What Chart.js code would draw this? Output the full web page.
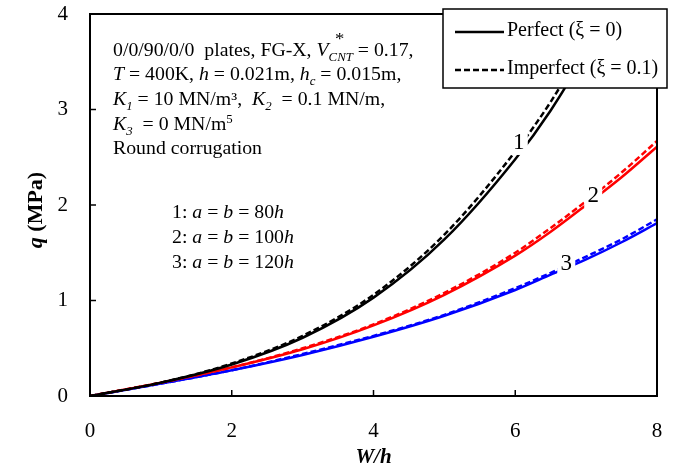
<!DOCTYPE html>
<html>
<head>
<meta charset="utf-8">
<script src="https://cdn.jsdelivr.net/npm/chart.js@4.4.1/dist/chart.umd.min.js"></script>
<style>
  html, body { margin: 0; padding: 0; background: #fff; }
  #wrap { width: 679px; height: 471px; }
</style>
</head>
<body>
<div id="wrap"><canvas id="chart" width="679" height="471"></canvas></div>
<script>
// W/h values where the curves were read
const wh = [0, 1, 2, 3, 4, 5, 6, 6.5, 7, 7.5, 8];

// q (MPa), perfect (xi = 0) and imperfect (xi = 0.1)
const q80Perfect = [0, 0.14, 0.33, 0.61, 1.03, 1.64, 2.48, 2.99, 3.60, 4.28, 5.05];
const q80Imperfect = [0, 0.14, 0.34, 0.63, 1.06, 1.69, 2.56, 3.08, 3.71, 4.40, 5.18];
const q100Perfect = [0, 0.14, 0.30, 0.49, 0.74, 1.06, 1.47, 1.72, 2.00, 2.29, 2.61];
const q100Imperfect = [0, 0.14, 0.30, 0.50, 0.75, 1.08, 1.50, 1.76, 2.04, 2.34, 2.67];
const q120Perfect = [0, 0.13, 0.27, 0.43, 0.62, 0.84, 1.11, 1.27, 1.43, 1.61, 1.81];
const q120Imperfect = [0, 0.13, 0.27, 0.44, 0.63, 0.85, 1.13, 1.29, 1.46, 1.64, 1.85];

const xTicks = [0, 2, 4, 6, 8];
const yTicks = [0, 1, 2, 3, 4];

// curve numbers and where they sit (data coords)
const curveLabels = ['1', '2', '3'];
const curveLabelX = [6.05, 7.1, 6.72];
const curveLabelY = [2.66, 2.1, 1.39];

const SERIF = '"Liberation Serif", "Times New Roman", serif';

const pts = ys => wh.map((x, i) => ({ x: x, y: ys[i] }));

function line(ys, color, dashed) {
  return {
    data: pts(ys),
    borderColor: color,
    borderWidth: 2.5,
    borderDash: dashed ? [6, 3] : [],
    pointRadius: 0,
    cubicInterpolationMode: 'monotone',
    fill: false
  };
}

// one line of mixed text: [text, italic, 'sub'|'sup'|undefined]
function richText(ctx, x, y, parts, size) {
  let cx = x;
  parts.forEach(p => {
    const [t, it, pos] = p;
    let s = size, dy = 0;
    if (pos === 'sub') { s = size * 0.65; dy = size * 0.25; }
    if (pos === 'sup') { s = size * 0.65; dy = -size * 0.38; }
    ctx.font = (it ? 'italic ' : '') + s + 'px ' + SERIF;
    ctx.fillText(t, cx, y + dy);
    cx += ctx.measureText(t).width;
  });
  return cx;
}

const decor = {
  id: 'decor',
  afterDatasetsDraw(chart) {
    const { ctx, scales: { x, y } } = chart;
    ctx.save();
    ctx.font = '23px ' + SERIF;
    ctx.textAlign = 'center';
    ctx.textBaseline = 'middle';
    curveLabels.forEach((t, i) => {
      const px = x.getPixelForValue(curveLabelX[i]);
      const py = y.getPixelForValue(curveLabelY[i]);
      ctx.fillStyle = '#fff';
      ctx.fillRect(px - 9, py - 13, 18, 26);
      ctx.fillStyle = '#000';
      ctx.fillText(t, px, py + 1);
    });
    ctx.restore();
  },
  afterDraw(chart) {
    const { ctx, chartArea: a, scales: { x, y } } = chart;
    ctx.save();
    // frame
    ctx.strokeStyle = '#000';
    ctx.lineWidth = 2;
    ctx.strokeRect(a.left, a.top, a.right - a.left, a.bottom - a.top);
    // inward tick marks
    ctx.lineWidth = 1.5;
    xTicks.forEach(v => {
      const px = x.getPixelForValue(v);
      ctx.beginPath(); ctx.moveTo(px, a.bottom); ctx.lineTo(px, a.bottom - 6); ctx.stroke();
    });
    yTicks.forEach(v => {
      const py = y.getPixelForValue(v);
      ctx.beginPath(); ctx.moveTo(a.left, py); ctx.lineTo(a.left + 6, py); ctx.stroke();
    });

    // axis titles
    ctx.fillStyle = '#000';
    ctx.textBaseline = 'middle';
    ctx.textAlign = 'center';
    ctx.font = 'italic bold 21px ' + SERIF;
    ctx.fillText('W/h', (a.left + a.right) / 2, 458);
    ctx.save();
    ctx.translate(36, 210);
    ctx.rotate(-Math.PI / 2);
    ctx.textAlign = 'left';
    ctx.font = 'italic bold 22px ' + SERIF;
    const qw = ctx.measureText('q').width;
    ctx.font = 'bold 22px ' + SERIF;
    const rest = ' (MPa)';
    const tw = qw + ctx.measureText(rest).width;
    ctx.font = 'italic bold 22px ' + SERIF;
    ctx.fillText('q', -tw / 2, 0);
    ctx.font = 'bold 22px ' + SERIF;
    ctx.fillText(rest, -tw / 2 + qw, 0);
    ctx.restore();

    // notes block (text in the figure is slightly widened)
    const fs = 18;
    const sx = 1.1;
    const lx = 113;
    ctx.save();
    ctx.translate(lx, 0);
    ctx.scale(sx, 1);
    ctx.textAlign = 'left';
    ctx.textBaseline = 'alphabetic';
    const notes = [
      [['0/0/90/0/0  plates, FG-X, ', false], ['V', true], ['CNT', true, 'sub'], [' = 0.17,', false]],
      [['T', true], [' = 400K, ', false], ['h', true], [' = 0.021m, ', false], ['h', true], ['c', true, 'sub'], [' = 0.015m,', false]],
      [['K', true], ['1', true, 'sub'], [' = 10 MN/m\u00B3,  ', false], ['K', true], ['2', true, 'sub'], ['  = 0.1 MN/m,', false]],
      [['K', true], ['3', true, 'sub'], ['  = 0 MN/m', false], ['5', false, 'sup']],
      [['Round corrugation', false]]
    ];
    const base = [56, 80, 105, 130, 154];
    notes.forEach((parts, i) => richText(ctx, 0, base[i], parts, fs));
    // asterisk over V_CNT
    ctx.font = fs + 'px ' + SERIF;
    const pre = ctx.measureText('0/0/90/0/0  plates, FG-X, ').width;
    ctx.font = 'italic ' + fs + 'px ' + SERIF;
    const vw = ctx.measureText('V').width;
    ctx.font = 'italic ' + (fs * 0.65) + 'px ' + SERIF;
    const cntw = ctx.measureText('CNT').width;
    ctx.font = '17px ' + SERIF;
    ctx.textAlign = 'center';
    ctx.fillText('*', pre + vw + cntw / 2 - 1, base[0] - 12);
    ctx.textAlign = 'left';

    const cases = [
      [['1: ', false], ['a', true], [' = ', false], ['b', true], [' = 80', false], ['h', true]],
      [['2: ', false], ['a', true], [' = ', false], ['b', true], [' = 100', false], ['h', true]],
      [['3: ', false], ['a', true], [' = ', false], ['b', true], [' = 120', false], ['h', true]]
    ];
    const cb = [218, 243, 268];
    cases.forEach((parts, i) => richText(ctx, (172 - lx) / sx, cb[i], parts, fs));
    ctx.restore();

    // legend box
    ctx.fillStyle = '#fff';
    ctx.fillRect(443, 9, 224, 79);
    ctx.strokeStyle = '#000';
    ctx.lineWidth = 1.5;
    ctx.strokeRect(443, 9, 224, 79);
    ctx.lineWidth = 2.5;
    ctx.beginPath(); ctx.moveTo(455, 32); ctx.lineTo(504, 32); ctx.stroke();
    ctx.setLineDash([6, 3]);
    ctx.beginPath(); ctx.moveTo(455, 70); ctx.lineTo(504, 70); ctx.stroke();
    ctx.setLineDash([]);
    ctx.fillStyle = '#000';
    ctx.font = '20px ' + SERIF;
    ctx.textAlign = 'left';
    ctx.textBaseline = 'middle';
    ctx.fillText('Perfect (\u03BE = 0)', 507, 31);
    ctx.fillText('Imperfect (\u03BE = 0.1)', 507, 69);
    ctx.restore();
  }
};

new Chart(document.getElementById('chart'), {
  type: 'line',
  data: {
    datasets: [
      line(q80Perfect, '#000000', false),
      line(q80Imperfect, '#000000', true),
      line(q100Perfect, '#FF0000', false),
      line(q100Imperfect, '#FF0000', true),
      line(q120Perfect, '#0000FF', false),
      line(q120Imperfect, '#0000FF', true)
    ]
  },
  options: {
    responsive: false,
    animation: false,
    layout: { padding: { left: 0, right: 22, top: 14, bottom: 0 } },
    plugins: { legend: { display: false }, tooltip: { enabled: false } },
    scales: {
      x: {
        type: 'linear',
        min: 0, max: 8,
        afterFit: s => { s.height = 75; s.paddingLeft = 0; s.paddingRight = 0; },
        afterBuildTicks: s => { s.ticks = xTicks.map(v => ({ value: v })); },
        grid: { display: false },
        border: { display: false },
        ticks: { color: '#000', padding: 15, font: { family: SERIF, size: 21 } }
      },
      y: {
        min: 0, max: 4,
        afterFit: s => { s.width = 90; s.paddingTop = 0; s.paddingBottom = 0; },
        afterBuildTicks: s => { s.ticks = yTicks.map(v => ({ value: v })); },
        grid: { display: false },
        border: { display: false },
        ticks: { color: '#000', padding: 14, font: { family: SERIF, size: 21 } }
      }
    }
  },
  plugins: [decor]
});
</script>
</body>
</html>
